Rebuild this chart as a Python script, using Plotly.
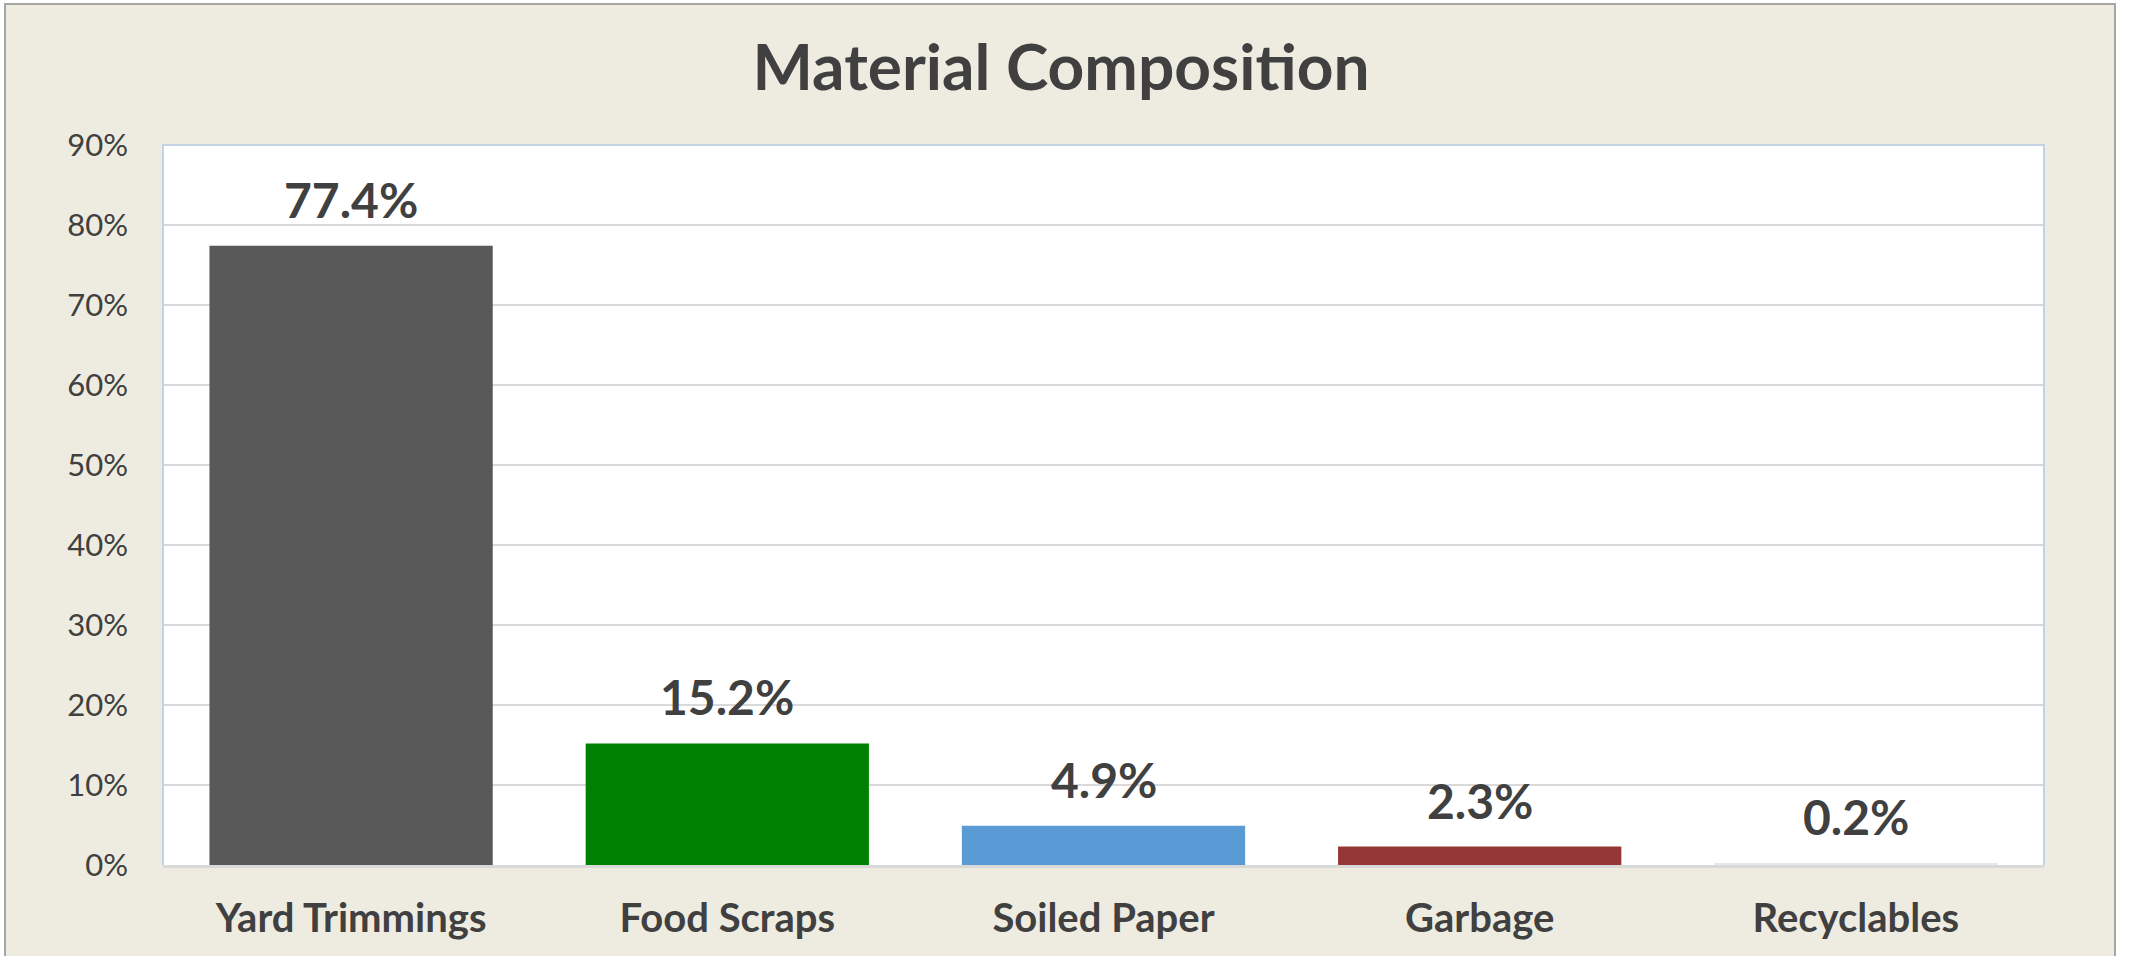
import plotly.graph_objects as go

categories = ["Yard Trimmings", "Food Scraps", "Soiled Paper", "Garbage", "Recyclables"]
values = [0.774, 0.152, 0.049, 0.023, 0.002]
bar_colors = ["#595959", "#008000", "#5B9BD5", "#953735", "#E6E6E6"]
y_ticks = [0, 0.1, 0.2, 0.3, 0.4, 0.5, 0.6, 0.7, 0.8, 0.9]
title_text = "Material Composition"

W, H = 2129, 956
L = 163
T = 145
R = W - 2044
B = H - 865
pw, ph = W - L - R, H - T - B

def px_x(p):
    return (p - L) / pw

def px_y(p):
    return (H - B - p) / ph

FONT = "Lato, 'Open Sans', sans-serif"
TXT = "#404040"

fig = go.Figure()
fig.add_trace(go.Bar(
    x=categories, y=values,
    marker=dict(color=bar_colors, line=dict(width=0)),
    hoverinfo="skip",
))

for c, v in zip(categories, values):
    fig.add_annotation(
        x=c, y=v, xref="x", yref="y",
        text=f"<b>{v*100:.1f}%</b>", showarrow=False,
        yanchor="bottom", yshift=16,
        font=dict(family=FONT, size=48, color=TXT),
    )

shapes = [
    dict(type="rect", xref="paper", yref="paper",
         x0=px_x(5), x1=px_x(2115), y0=px_y(990), y1=px_y(4),
         fillcolor="#EEECE1", line=dict(color="#A5A5A5", width=2), layer="below"),
    dict(type="rect", xref="paper", yref="paper",
         x0=0, x1=1, y0=0, y1=1,
         fillcolor="#FFFFFF", line=dict(width=0), layer="below"),
    dict(type="path", xref="paper", yref="paper",
         path="M 0,0 L 0,1 L 1,1 L 1,0",
         line=dict(color="#C3D2E5", width=2), layer="above"),
]

fig.update_layout(
    width=W, height=H,
    margin=dict(l=L, r=R, t=T, b=B, pad=0),
    paper_bgcolor="#FFFFFF",
    plot_bgcolor="#FFFFFF",
    showlegend=False,
    bargap=0.247,
    shapes=shapes,
    title=dict(
        text=f"<b>{title_text}</b>",
        x=1061 / W, xref="container", xanchor="center",
        y=1 - 68 / H, yref="container", yanchor="middle",
        font=dict(family=FONT, size=64, color=TXT),
    ),
    xaxis=dict(
        showgrid=False, showline=True, linecolor="#D9D9D9", linewidth=3,
        ticks="", ticklabelstandoff=16,
        tickfont=dict(family=FONT, size=40, color=TXT, weight="bold"),
    ),
    yaxis=dict(
        range=[0, 0.9], tickvals=y_ticks, tickformat=".0%",
        showgrid=True, gridcolor="#D9D9D9", gridwidth=2,
        zeroline=False, showline=False, ticks="", ticklabelstandoff=34,
        tickfont=dict(family=FONT, size=31, color=TXT),
    ),
)

fig.write_html(
    "out.html",
    config={"displayModeBar": False},
    post_script="document.body.style.margin='0';document.body.style.overflow='hidden';",
)
